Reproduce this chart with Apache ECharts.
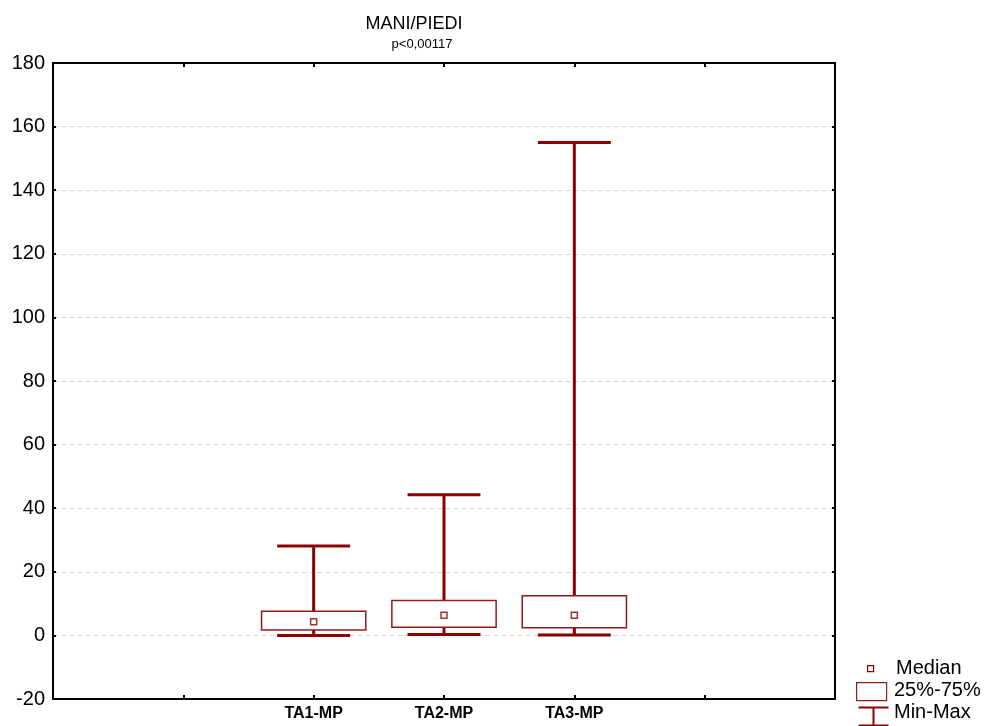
<!DOCTYPE html>
<html>
<head>
<meta charset="utf-8">
<script src="https://cdn.jsdelivr.net/npm/echarts@6/dist/echarts.min.js"></script>
<style>
  html, body { margin: 0; padding: 0; background: #fff; }
</style>
</head>
<body>
<div id="main" style="width: 999px; height: 726px;"></div>
<script>
// data
var categories = ['TA1-MP', 'TA2-MP', 'TA3-MP'];
var minVals    = [0.0, 0.3, 0.1];
var q1Vals     = [1.7, 2.6, 2.4];
var medianVals = [4.3, 6.3, 6.3];
var q3Vals     = [7.6, 11.0, 12.5];
var maxVals    = [28.1, 44.2, 155.0];

var DARK = '#8b0000';
var BOX = '#8e1c1c';

// two empty slots each side, like the original plot
var axisCats = ['', ''].concat(categories).concat(['', '']);
var offset = 2;

var whiskerData = [], boxData = [], medData = [];
for (var i = 0; i < categories.length; i++) {
    whiskerData.push([i + offset, minVals[i], maxVals[i]]);
    boxData.push([i + offset, q1Vals[i], q3Vals[i]]);
    medData.push([i + offset, medianVals[i]]);
}

var chart = echarts.init(document.getElementById('main'));

var fontMain = 'Liberation Sans, Arial, sans-serif';

var option = {
    animation: false,
    title: [
        { text: 'MANI/PIEDI', left: 409, top: 10, textAlign: 'center',
          textStyle: { fontFamily: fontMain, fontSize: 18, fontWeight: 'normal', color: '#000' } },
        { text: 'p<0,00117', left: 417, top: 33, textAlign: 'center',
          textStyle: { fontFamily: fontMain, fontSize: 13, fontWeight: 'normal', color: '#000' } }
    ],
    grid: { left: 53, right: 164, top: 63, bottom: 27, containLabel: false },
    xAxis: [{
        type: 'category',
        data: axisCats,
        boundaryGap: false,
        position: 'bottom',
        axisLine: { show: true, onZero: false, lineStyle: { color: '#000', width: 2 } },
        axisTick: { show: true, inside: true, length: 4, lineStyle: { color: '#000', width: 2 } },
        axisLabel: { margin: 7, color: '#000', fontFamily: fontMain, fontWeight: 'bold', fontSize: 16 },
        splitLine: { show: false }
    }, {
        type: 'category',
        data: axisCats,
        boundaryGap: false,
        position: 'top',
        axisLine: { show: true, onZero: false, lineStyle: { color: '#000', width: 2 } },
        axisTick: { show: true, inside: true, length: 4, lineStyle: { color: '#000', width: 2 } },
        axisLabel: { show: false }
    }],
    yAxis: [{
        type: 'value',
        min: -20, max: 180, interval: 20,
        position: 'left',
        axisLine: { show: true, onZero: false, lineStyle: { color: '#000', width: 2 } },
        axisTick: { show: true, inside: true, length: 3, lineStyle: { color: '#000', width: 2 } },
        axisLabel: { margin: 8, color: '#000', fontFamily: fontMain, fontSize: 20 },
        splitLine: { show: true, lineStyle: { color: '#d4d4d4', type: [5, 3], width: 1 } }
    }, {
        type: 'value',
        min: -20, max: 180, interval: 20,
        position: 'right',
        axisLine: { show: true, onZero: false, lineStyle: { color: '#000', width: 2 } },
        axisTick: { show: true, inside: true, length: 3, lineStyle: { color: '#000', width: 2 } },
        axisLabel: { show: false },
        splitLine: { show: false }
    }],
    series: [{
        name: 'Min-Max',
        type: 'custom',
        z: 2,
        data: whiskerData,
        renderItem: function (params, api) {
            var x = api.value(0);
            var lo = api.coord([x, api.value(1)]);
            var hi = api.coord([x, api.value(2)]);
            var half = api.size([1, 0])[0] * 0.28;
            var st = { stroke: DARK, lineWidth: 3 };
            return {
                type: 'group',
                children: [
                    { type: 'line', shape: { x1: lo[0], y1: lo[1], x2: hi[0], y2: hi[1] }, style: st },
                    { type: 'line', shape: { x1: hi[0] - half, y1: hi[1], x2: hi[0] + half, y2: hi[1] }, style: st },
                    { type: 'line', shape: { x1: lo[0] - half, y1: lo[1], x2: lo[0] + half, y2: lo[1] }, style: st }
                ]
            };
        }
    }, {
        name: '25%-75%',
        type: 'custom',
        z: 3,
        data: boxData,
        renderItem: function (params, api) {
            var x = api.value(0);
            var lo = api.coord([x, api.value(1)]);
            var hi = api.coord([x, api.value(2)]);
            var half = api.size([1, 0])[0] * 0.4;
            return {
                type: 'rect',
                shape: { x: lo[0] - half, y: hi[1], width: half * 2, height: lo[1] - hi[1] },
                style: { fill: '#fff', stroke: BOX, lineWidth: 1.5 }
            };
        }
    }, {
        name: 'Median',
        type: 'scatter',
        z: 4,
        data: medData,
        symbol: 'rect',
        symbolSize: 6,
        itemStyle: { color: '#fff', borderColor: DARK, borderWidth: 1.5 }
    }],
    graphic: [
        { type: 'rect', left: 867, top: 665, shape: { width: 6, height: 6 }, style: { fill: '#fff', stroke: DARK, lineWidth: 1.2 } },
        { type: 'text', left: 896, top: 658, style: { text: 'Median', fontFamily: fontMain, fontSize: 20, fill: '#000' } },
        { type: 'rect', left: 856, top: 682, shape: { width: 30, height: 18 }, style: { fill: '#fff', stroke: BOX, lineWidth: 1.2 } },
        { type: 'text', left: 894, top: 680, style: { text: '25%-75%', fontFamily: fontMain, fontSize: 20, fill: '#000' } },
        { type: 'group', left: 856, top: 705, children: [
            { type: 'line', shape: { x1: 0, y1: 1, x2: 30, y2: 1 }, style: { stroke: DARK, lineWidth: 2 } },
            { type: 'line', shape: { x1: 15, y1: 1, x2: 15, y2: 19 }, style: { stroke: DARK, lineWidth: 2 } },
            { type: 'line', shape: { x1: 0, y1: 19, x2: 30, y2: 19 }, style: { stroke: DARK, lineWidth: 2 } }
        ] },
        { type: 'text', left: 894, top: 702, style: { text: 'Min-Max', fontFamily: fontMain, fontSize: 20, fill: '#000' } }
    ]
};

chart.setOption(option);
</script>
</body>
</html>
